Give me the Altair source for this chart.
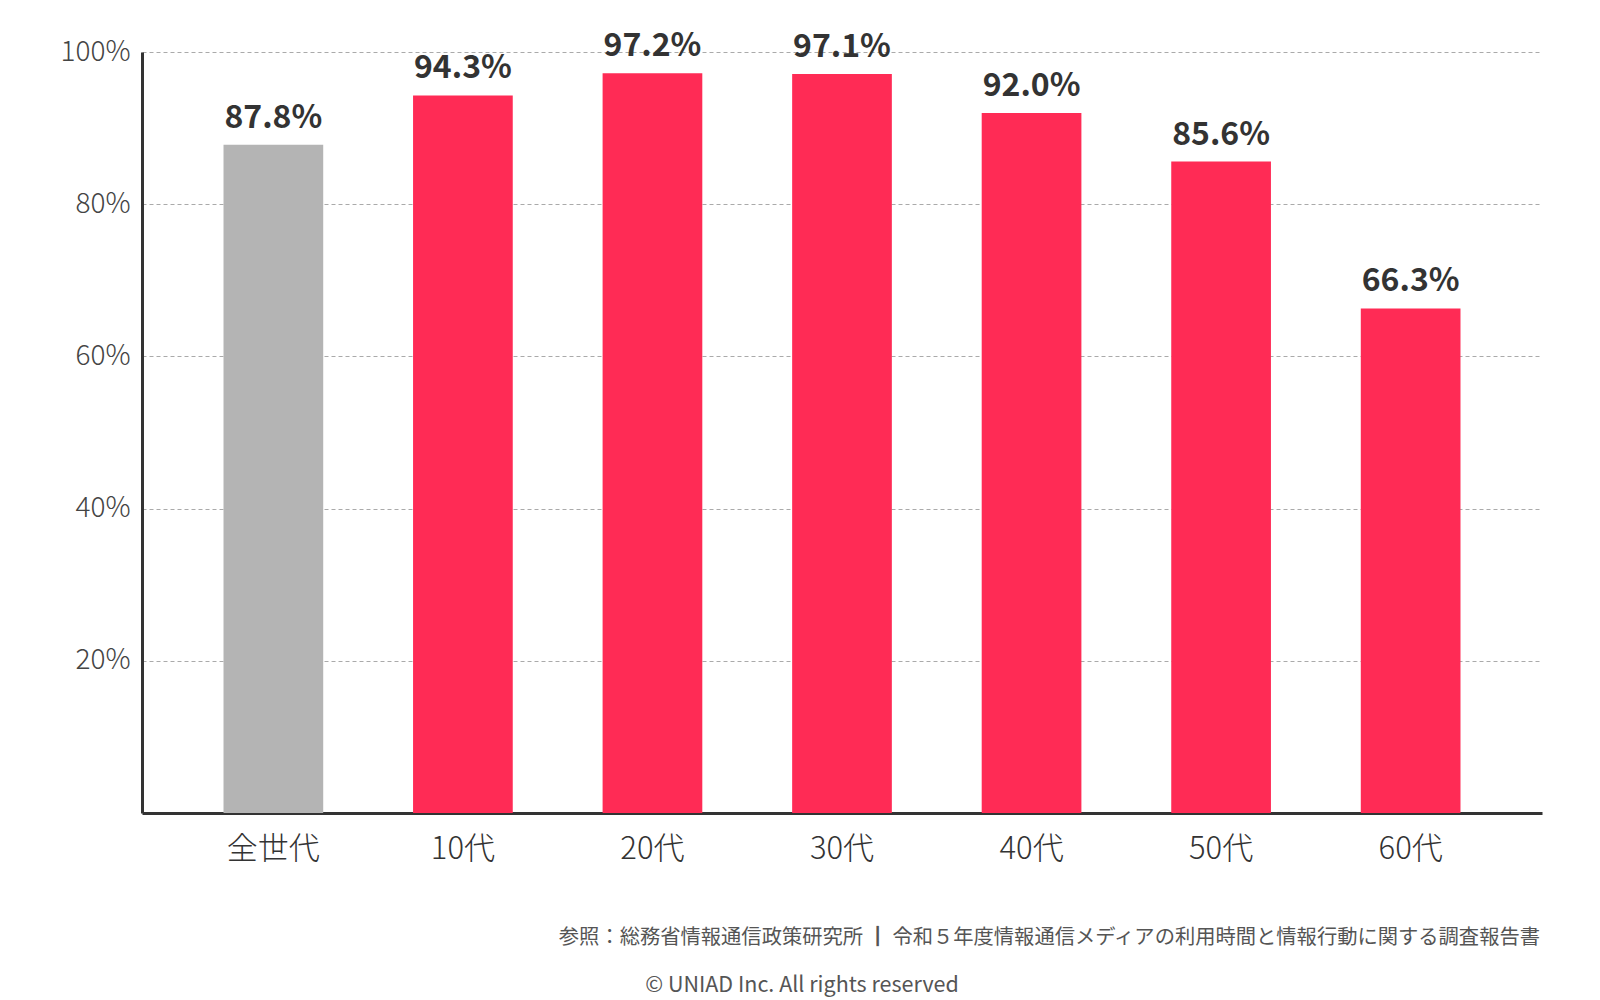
import altair as alt
import pandas as pd

categories = ["全世代", "10代", "20代", "30代", "40代", "50代", "60代"]
values = [87.8, 94.3, 97.2, 97.1, 92.0, 85.6, 66.3]
groups = ["全体", "年代別", "年代別", "年代別", "年代別", "年代別", "年代別"]
y_ticks = [20, 40, 60, 80, 100]

source_note = "参照：総務省情報通信政策研究所 ┃ 令和５年度情報通信メディアの利用時間と情報行動に関する調査報告書"
copyright_note = "© UNIAD Inc. All rights reserved"

df = pd.DataFrame({"cat": categories, "val": values, "grp": groups})
df["label"] = [f"{v:.1f}%" for v in values]

FONT = "Noto Sans CJK JP"
W, H = 1400, 761

x_enc = alt.X("cat:N", sort=categories,
              scale=alt.Scale(paddingInner=0.474, paddingOuter=0.43),
              axis=alt.Axis(title=None, labelAngle=0, labelFontSize=31, labelFont=FONT,
                            labelFontWeight=300, labelColor="#333333", labelPadding=21,
                            ticks=False, domainColor="#333333", domainWidth=3))
y_enc = alt.Y("val:Q", scale=alt.Scale(domain=[0, 100], nice=False),
              axis=alt.Axis(title=None, values=y_ticks, labelExpr="datum.value + '%'",
                            labelFontSize=28, labelFont=FONT, labelFontWeight=300,
                            labelColor="#444444", labelPadding=12, ticks=False,
                            domainColor="#333333", domainWidth=3,
                            grid=True, gridColor="#aaaaaa", gridDash=[4, 3], gridWidth=1))

bars = alt.Chart(df).mark_bar().encode(
    x=x_enc, y=y_enc,
    color=alt.Color("grp:N", scale=alt.Scale(domain=["全体", "年代別"], range=["#b4b4b4", "#ff2b55"]),
                    legend=None),
)

labels = alt.Chart(df).mark_text(font=FONT, fontSize=32, fontWeight="bold", color="#333333",
                                 baseline="alphabetic", dy=-17).encode(
    x=alt.X("cat:N", sort=categories), y="val:Q", text="label:N")

src = alt.Chart(pd.DataFrame({"t": [source_note]})).mark_text(
    font=FONT, fontSize=20.3, color="#555555", align="right", baseline="middle").encode(
    x=alt.value(1398), y=alt.value(886), text="t:N")
cp = alt.Chart(pd.DataFrame({"t": [copyright_note]})).mark_text(
    font=FONT, fontSize=21.5, color="#555555", align="center", baseline="middle").encode(
    x=alt.value(660), y=alt.value(934), text="t:N")

chart = alt.layer(bars, labels, src, cp).properties(
    width=W, height=H,
    autosize=alt.AutoSizeParams(type="none"),
    padding={"left": 134, "top": 44, "right": 50, "bottom": 185},
).configure(background="white").configure_view(stroke=None, strokeWidth=0)

chart.save("out.html", embed_options={"renderer": "svg", "actions": False})
